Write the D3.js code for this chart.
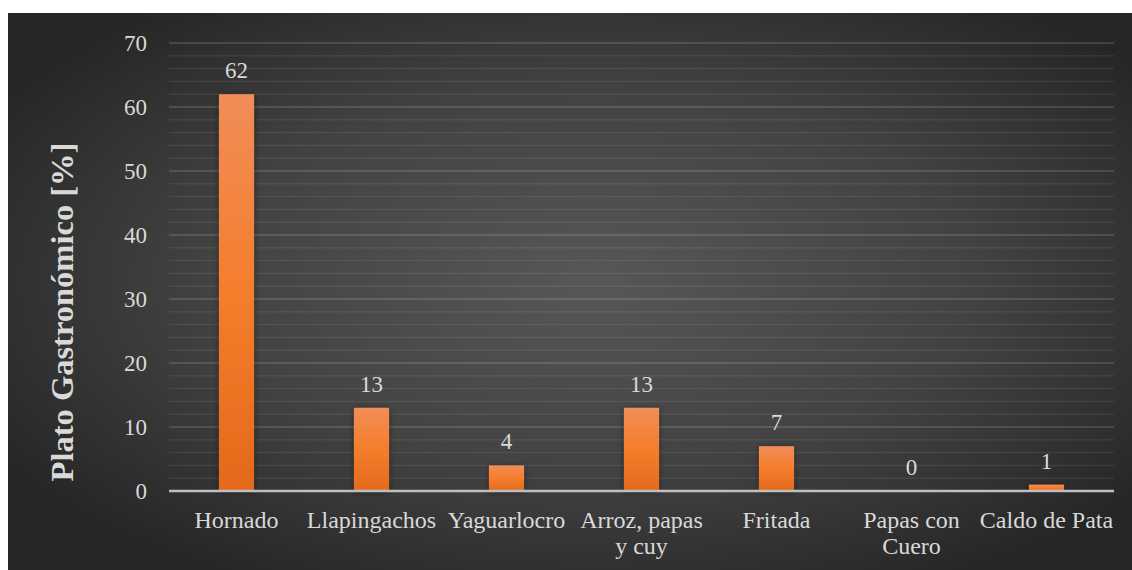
<!DOCTYPE html>
<html>
<head>
<meta charset="utf-8">
<script src="https://cdn.jsdelivr.net/npm/d3@7/dist/d3.min.js"></script>
<style>
  html, body { margin: 0; padding: 0; background: #fff; }
</style>
</head>
<body>
<div id="chart"></div>
<script>
const categories = ['Hornado', 'Llapingachos', 'Yaguarlocro', 'Arroz, papas|y cuy', 'Fritada', 'Papas con|Cuero', 'Caldo de Pata'];
const values = [62, 13, 4, 13, 7, 0, 1];
const yTicks = [0, 10, 20, 30, 40, 50, 60, 70];
const yTitle = 'Plato Gastronómico [%]';

const font = "'Liberation Serif', 'Times New Roman', serif";
const width = 1132, height = 570;
// chart box inside the white page
const box = { x: 8, y: 13, w: 1124, h: 557 };
const margin = { top: 43, right: 18, bottom: 79, left: 169 };

const svg = d3.select('#chart')
  .append('svg')
  .attr('width', width)
  .attr('height', height);

const defs = svg.append('defs');

// dark radial background, lighter in the middle
const bg = defs.append('radialGradient')
  .attr('id', 'bg')
  .attr('cx', '52%').attr('cy', '48%').attr('r', '62%');
bg.append('stop').attr('offset', '0%').attr('stop-color', '#575757');
bg.append('stop').attr('offset', '55%').attr('stop-color', '#424242');
bg.append('stop').attr('offset', '100%').attr('stop-color', '#262626');

// bar fill, light orange at top
const barGrad = defs.append('linearGradient')
  .attr('id', 'bar')
  .attr('x1', 0).attr('y1', 0).attr('x2', 0).attr('y2', 1);
barGrad.append('stop').attr('offset', '0%').attr('stop-color', '#f18d58');
barGrad.append('stop').attr('offset', '50%').attr('stop-color', '#f47e2c');
barGrad.append('stop').attr('offset', '100%').attr('stop-color', '#e4691b');

const shadow = defs.append('filter')
  .attr('id', 'shadow')
  .attr('x', '-50%').attr('y', '-20%').attr('width', '200%').attr('height', '140%');
shadow.append('feDropShadow')
  .attr('dx', 0).attr('dy', 1).attr('stdDeviation', 3)
  .attr('flood-color', '#000').attr('flood-opacity', 0.45);

svg.append('rect')
  .attr('x', box.x).attr('y', box.y)
  .attr('width', box.w).attr('height', box.h)
  .attr('fill', 'url(#bg)');

const x = d3.scaleBand()
  .domain(categories)
  .range([margin.left, width - margin.right])
  .paddingInner(0.74)
  .paddingOuter(0.37);

const y = d3.scaleLinear()
  .domain([0, 70])
  .range([height - margin.bottom, margin.top]);

// minor gridlines every 2
const minor = d3.range(0, 71, 2).filter(d => d % 10 !== 0);
svg.append('g')
  .selectAll('line')
  .data(minor)
  .enter()
  .append('line')
  .attr('x1', margin.left).attr('x2', width - margin.right)
  .attr('y1', d => y(d)).attr('y2', d => y(d))
  .attr('stroke', '#ffffff').attr('stroke-opacity', 0.07)
  .attr('stroke-width', 1.5);

// major gridlines
svg.append('g')
  .selectAll('line')
  .data(yTicks.filter(d => d > 0))
  .enter()
  .append('line')
  .attr('x1', margin.left).attr('x2', width - margin.right)
  .attr('y1', d => y(d)).attr('y2', d => y(d))
  .attr('stroke', '#ffffff').attr('stroke-opacity', 0.13)
  .attr('stroke-width', 2);

// y tick labels
const yAxis = svg.append('g')
  .attr('transform', 'translate(' + (margin.left - 22) + ',0)')
  .call(d3.axisLeft(y).tickValues(yTicks).tickSize(0).tickPadding(0))
  .attr('font-family', font)
  .attr('font-size', 23);
yAxis.select('.domain').remove();
yAxis.selectAll('text')
  .attr('fill', '#d9d9d9')
  .attr('dy', '0.33em');

// bars
svg.append('g')
  .selectAll('rect')
  .data(values)
  .enter()
  .append('rect')
  .attr('x', (d, i) => x(categories[i]))
  .attr('y', d => y(d))
  .attr('width', x.bandwidth())
  .attr('height', d => y(0) - y(d))
  .attr('fill', 'url(#bar)')
  .attr('filter', 'url(#shadow)');

// value labels
svg.append('g')
  .attr('font-family', font)
  .attr('font-size', 23)
  .selectAll('text')
  .data(values)
  .enter()
  .append('text')
  .attr('x', (d, i) => x(categories[i]) + x.bandwidth() / 2)
  .attr('y', d => y(d) - 16)
  .attr('text-anchor', 'middle')
  .attr('fill', '#d9d9d9')
  .text(d => d);

// x axis line
svg.append('line')
  .attr('x1', margin.left).attr('x2', width - margin.right)
  .attr('y1', y(0)).attr('y2', y(0))
  .attr('stroke', '#bfbfbf')
  .attr('stroke-width', 2.5);

// category labels (| marks a line break)
const xl = svg.append('g')
  .attr('font-family', font)
  .attr('font-size', 24)
  .selectAll('text')
  .data(categories)
  .enter()
  .append('text')
  .attr('x', d => x(d) + x.bandwidth() / 2)
  .attr('y', y(0) + 37)
  .attr('text-anchor', 'middle')
  .attr('fill', '#d9d9d9');
xl.selectAll('tspan')
  .data(d => d.split('|'))
  .enter()
  .append('tspan')
  .attr('x', function () { return d3.select(this.parentNode).attr('x'); })
  .attr('dy', (d, i) => i === 0 ? 0 : 26)
  .text(d => d);

// y axis title
svg.append('text')
  .attr('transform', 'translate(73,' + 312 + ') rotate(-90)')
  .attr('text-anchor', 'middle')
  .attr('font-family', font)
  .attr('font-size', 32.5)
  .attr('font-weight', 'bold')
  .attr('fill', '#d9d9d9')
  .text(yTitle);
</script>
</body>
</html>
